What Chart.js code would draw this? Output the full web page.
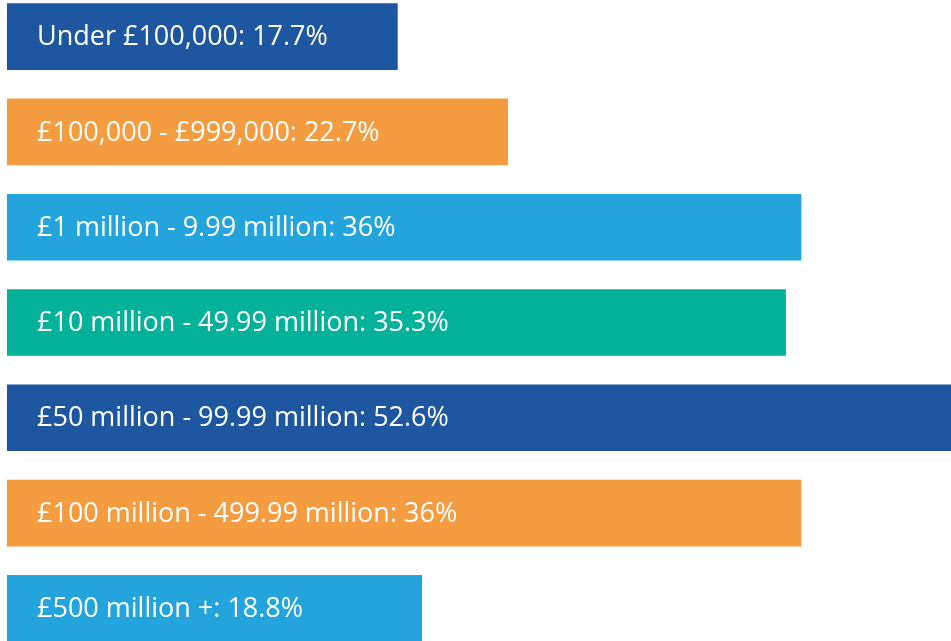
<!DOCTYPE html>
<html>
<head>
<meta charset="utf-8">
<script src="https://cdn.jsdelivr.net/npm/chart.js@4"></script>
<style>
  html, body { margin: 0; padding: 0; background: #ffffff; overflow: hidden; }
  #wrap { position: absolute; left: 0; top: -11px; width: 951px; height: 667px; }
</style>
</head>
<body>
<div id="wrap"><canvas id="turnoverChart"></canvas></div>
<script>
// 売上規模別の割合
const bands = [
  "Under £100,000",
  "£100,000 - £999,000",
  "£1 million - 9.99 million",
  "£10 million - 49.99 million",
  "£50 million - 99.99 million",
  "£100 million - 499.99 million",
  "£500 million +",
];
const shares = [17.7, 22.7, 36, 35.3, 52.6, 36, 18.8];
const barColors = ["#1e56a0", "#f59c40", "#23a4dd", "#04b199", "#1e56a0", "#f59c40", "#23a4dd"];

// バーの中にラベルを白文字で描く
const insideLabels = {
  id: "insideLabels",
  afterDatasetsDraw(chart) {
    const ctx = chart.ctx;
    const meta = chart.getDatasetMeta(0);
    ctx.save();
    ctx.fillStyle = "#ffffff";
    ctx.font = "27px 'Open Sans'";
    ctx.textBaseline = "middle";
    ctx.textAlign = "left";
    meta.data.forEach((bar, i) => {
      const text = bands[i] + ": " + shares[i] + "%";
      ctx.fillText(text, bar.base + 30, bar.y + 1);
    });
    ctx.restore();
  },
};

new Chart(document.getElementById("turnoverChart"), {
  type: "bar",
  data: {
    labels: bands,
    datasets: [
      {
        data: shares,
        backgroundColor: barColors,
        borderWidth: 0,
        barThickness: 66,
      },
    ],
  },
  options: {
    indexAxis: "y",
    responsive: true,
    maintainAspectRatio: false,
    animation: false,
    layout: { padding: { left: 7, right: 0, top: 0, bottom: 0 } },
    plugins: {
      legend: { display: false },
      tooltip: { enabled: false },
    },
    scales: {
      x: { display: false, min: 0, max: 42.8 },
      y: { display: false },
    },
  },
  plugins: [insideLabels],
});
</script>
</body>
</html>
